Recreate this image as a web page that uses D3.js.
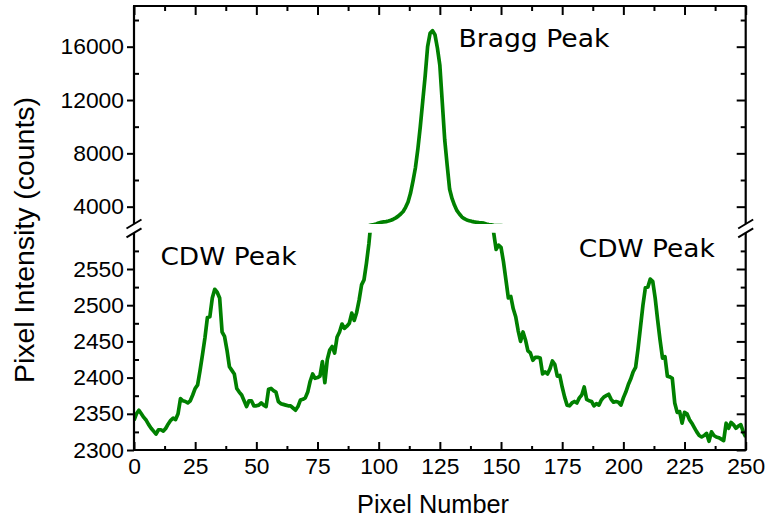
<!DOCTYPE html>
<html>
<head>
<meta charset="utf-8">
<script src="https://cdn.jsdelivr.net/npm/d3@7/dist/d3.min.js"></script>
<style>
  html, body { margin: 0; padding: 0; background: #fff; }
  svg { display: block; }
  .tick text { font-family: "Liberation Sans", Arial, sans-serif; font-size: 22px; fill: #000; }
  .tick line { stroke: #000; stroke-width: 2px; }
</style>
</head>
<body>
<svg id="chart" width="766" height="521"></svg>
<script>
// Line profile across the detector: intensity at each pixel number 0..250
const pixelIntensity = [
  2341, 2350, 2355, 2350, 2345, 2341, 2335, 2330, 2326, 2322,
  2328, 2328, 2326, 2330, 2336, 2341, 2344, 2342, 2350, 2371,
  2368, 2367, 2365, 2368, 2376, 2385, 2390, 2410, 2432, 2455,
  2483, 2484, 2510, 2522, 2518, 2510, 2463, 2457, 2438, 2415,
  2410, 2405, 2385, 2380, 2376, 2368, 2360, 2368, 2368, 2361,
  2361, 2362, 2365, 2362, 2360, 2384, 2385, 2382, 2380, 2367,
  2364, 2363, 2362, 2361, 2361, 2358, 2355, 2360, 2369, 2370,
  2372, 2380, 2395, 2405, 2399, 2400, 2402, 2422, 2393, 2425,
  2438, 2443, 2434, 2456, 2463, 2474, 2468, 2471, 2475, 2489,
  2479, 2490, 2507, 2528, 2535, 2558, 2585, 2620, 2655, 2700,
  2780, 2830, 2860, 2880, 2920, 2980, 3060, 3160, 3290, 3450,
  3640, 3950, 4350, 5000, 5900, 6900, 8300, 10000, 11900, 13800,
  16000, 17000, 17200, 16900, 15900, 14600, 11800, 9000, 7100, 5300,
  4600, 4100, 3700, 3450, 3230, 3100, 3000, 2950, 2900, 2860,
  2830, 2800, 2780, 2760, 2700, 2660, 2630, 2600, 2577, 2583,
  2580, 2560, 2535, 2510, 2512, 2495, 2484, 2465, 2450, 2463,
  2452, 2437, 2434, 2424, 2428, 2428, 2427, 2405, 2408, 2405,
  2412, 2423, 2418, 2402, 2403, 2387, 2373, 2362, 2361, 2365,
  2367, 2365, 2372, 2376, 2387, 2370, 2368, 2367, 2361, 2364,
  2362, 2369, 2373, 2375, 2377, 2370, 2366, 2367, 2366, 2362,
  2372, 2380, 2390, 2398, 2408, 2414, 2440, 2470, 2500, 2524,
  2525, 2536, 2533, 2510, 2480, 2452, 2427, 2429, 2402, 2401,
  2399, 2365, 2352, 2353, 2337, 2352, 2350, 2342, 2337, 2331,
  2325, 2320, 2318, 2320, 2323, 2312, 2325, 2320, 2318, 2317,
  2315, 2313, 2337, 2330, 2338, 2335, 2330, 2333, 2335, 2325,
  2318
];

// Axis ticks
const xTicks = [0, 25, 50, 75, 100, 125, 150, 175, 200, 225, 250];
const xMinorTicks = [12.5, 37.5, 62.5, 87.5, 112.5, 137.5, 162.5, 187.5, 212.5, 237.5];
const lowerTicks = [2300, 2350, 2400, 2450, 2500, 2550];
const lowerMinorTicks = [2325, 2375, 2425, 2475, 2525, 2575];
const upperTicks = [4000, 8000, 12000, 16000];
const upperMinorTicks = [6000, 10000, 14000, 18000];

// Annotations
const peakLabels = [
  { text: "CDW Peak", px: 10.8, val: 2556, section: "lower" },
  { text: "Bragg Peak", px: 132.6, val: 16000, section: "upper" },
  { text: "CDW Peak", px: 181.8, val: 2567, section: "lower" }
];

const svg = d3.select("#chart");
const L = 134, R = 745.7, T = 6, B = 450;
const lowerTop = 232.8, upperBottom = 224;
const digitWidth = 12.7;

const x = d3.scaleLinear().domain([0, 250]).range([L, R]);
const yLower = d3.scaleLinear().domain([2300, 2600]).range([B, lowerTop]);
const yUpper = d3.scaleLinear().domain([2700, 19052]).range([upperBottom, T]);

const defs = svg.append("defs");
defs.append("clipPath").attr("id", "clipLower")
  .append("rect").attr("x", L).attr("y", lowerTop).attr("width", R - L).attr("height", B - lowerTop);
defs.append("clipPath").attr("id", "clipUpper")
  .append("rect").attr("x", L).attr("y", T).attr("width", R - L).attr("height", upperBottom - T);

// The profile, drawn once per axis section
const lineColor = "#008000";
[["clipLower", yLower], ["clipUpper", yUpper]].forEach(([clip, yS]) => {
  const line = d3.line().x((d, i) => x(i)).y(d => yS(d));
  svg.append("path")
    .datum(pixelIntensity)
    .attr("clip-path", `url(#${clip})`)
    .attr("d", line)
    .attr("fill", "none")
    .attr("stroke", lineColor)
    .attr("stroke-width", 3.7)
    .attr("stroke-linejoin", "round");
});

function styleAxis(g) {
  g.select(".domain").remove();
  g.selectAll(".tick text")
    .attr("textLength", function () { return this.textContent.length * digitWidth; })
    .attr("lengthAdjust", "spacingAndGlyphs");
  return g;
}

// Left axis: labelled major ticks outside, minor ticks inside
svg.append("g").attr("transform", `translate(${L},0)`)
  .call(d3.axisLeft(yLower).tickValues(lowerTicks).tickSize(7).tickPadding(3).tickFormat(d3.format("d")))
  .call(styleAxis);
svg.append("g").attr("transform", `translate(${L},0)`)
  .call(d3.axisLeft(yUpper).tickValues(upperTicks).tickSize(7).tickPadding(3).tickFormat(d3.format("d")))
  .call(styleAxis);
svg.append("g").attr("transform", `translate(${L},0)`)
  .call(d3.axisRight(yLower).tickValues(lowerMinorTicks).tickSize(5).tickFormat(""))
  .call(styleAxis);
svg.append("g").attr("transform", `translate(${L},0)`)
  .call(d3.axisRight(yUpper).tickValues(upperMinorTicks).tickSize(5).tickFormat(""))
  .call(styleAxis);

// Right axis: ticks pointing inward
svg.append("g").attr("transform", `translate(${R},0)`)
  .call(d3.axisLeft(yLower).tickValues(lowerTicks).tickSize(9).tickFormat(""))
  .call(styleAxis);
svg.append("g").attr("transform", `translate(${R},0)`)
  .call(d3.axisLeft(yUpper).tickValues(upperTicks).tickSize(9).tickFormat(""))
  .call(styleAxis);
svg.append("g").attr("transform", `translate(${R},0)`)
  .call(d3.axisLeft(yLower).tickValues(lowerMinorTicks).tickSize(5).tickFormat(""))
  .call(styleAxis);
svg.append("g").attr("transform", `translate(${R},0)`)
  .call(d3.axisLeft(yUpper).tickValues(upperMinorTicks).tickSize(5).tickFormat(""))
  .call(styleAxis);

// Bottom axis: inward ticks, labels below
svg.append("g").attr("transform", `translate(0,${B})`)
  .call(d3.axisBottom(x).tickValues(xTicks).tickSize(-8).tickPadding(8))
  .call(styleAxis);
svg.append("g").attr("transform", `translate(0,${B})`)
  .call(d3.axisBottom(x).tickValues(xMinorTicks).tickSize(-4).tickFormat(""))
  .call(styleAxis);

// Top axis: inward ticks
svg.append("g").attr("transform", `translate(0,${T})`)
  .call(d3.axisBottom(x).tickValues(xTicks).tickSize(9).tickFormat(""))
  .call(styleAxis);
svg.append("g").attr("transform", `translate(0,${T})`)
  .call(d3.axisBottom(x).tickValues(xMinorTicks).tickSize(5).tickFormat(""))
  .call(styleAxis);

// Frame with the broken vertical axes
const frame = svg.append("g").attr("stroke", "#000").attr("stroke-width", 2.2).attr("fill", "none");
frame.append("line").attr("x1", L - 1).attr("x2", R + 1).attr("y1", T).attr("y2", T);
frame.append("line").attr("x1", L - 1).attr("x2", R + 1).attr("y1", B).attr("y2", B);
[L, R].forEach(xx => {
  frame.append("line").attr("x1", xx).attr("x2", xx).attr("y1", T).attr("y2", upperBottom);
  frame.append("line").attr("x1", xx).attr("x2", xx).attr("y1", lowerTop).attr("y2", B);
  // break marks
  [upperBottom, lowerTop].forEach(yy => {
    frame.append("line")
      .attr("x1", xx - 7.5).attr("y1", yy + 4.5)
      .attr("x2", xx + 7.5).attr("y2", yy - 4.5)
      .attr("stroke-width", 2);
  });
});

// Peak annotations
peakLabels.forEach(p => {
  const yS = p.section === "upper" ? yUpper : yLower;
  svg.append("text")
    .attr("x", x(p.px)).attr("y", yS(p.val))
    .attr("font-family", "'DejaVu Sans', Verdana, sans-serif")
    .attr("font-size", 25.5)
    .attr("textLength", p.text === "Bragg Peak" ? 151 : 136)
    .attr("lengthAdjust", "spacingAndGlyphs")
    .attr("fill", "#000")
    .text(p.text);
});

// Axis titles
svg.append("text")
  .attr("x", 433).attr("y", 513)
  .attr("text-anchor", "middle")
  .attr("font-family", "'Liberation Sans', Arial, sans-serif")
  .attr("font-size", 25)
  .attr("textLength", 152)
  .attr("lengthAdjust", "spacingAndGlyphs")
  .text("Pixel Number");
svg.append("text")
  .attr("transform", `translate(34,${240}) rotate(-90)`)
  .attr("text-anchor", "middle")
  .attr("font-family", "'Liberation Sans', Arial, sans-serif")
  .attr("font-size", 28)
  .attr("textLength", 286)
  .attr("lengthAdjust", "spacingAndGlyphs")
  .text("Pixel Intensity (counts)");
</script>
</body>
</html>
